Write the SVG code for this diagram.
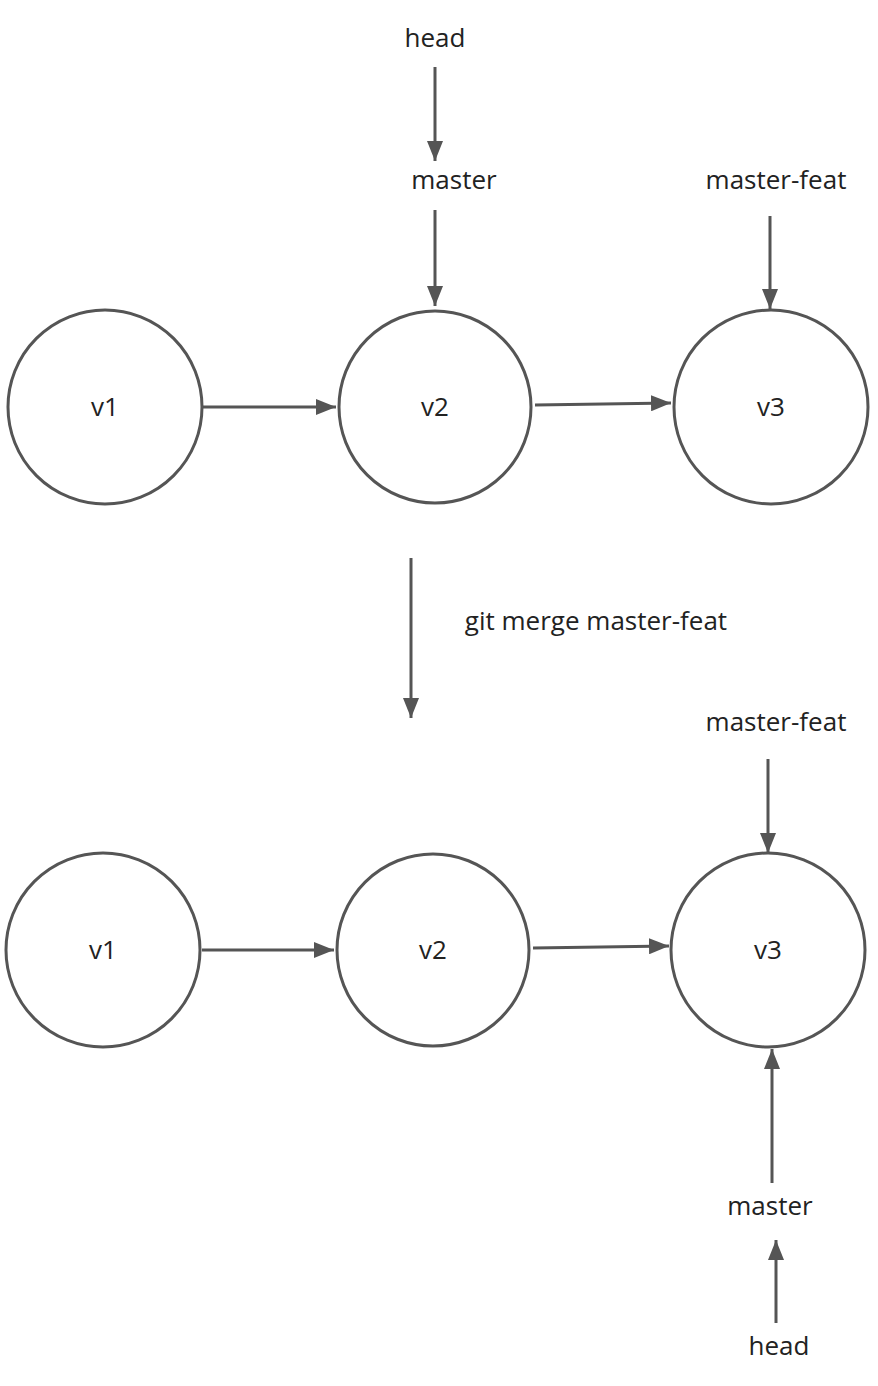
<svg xmlns="http://www.w3.org/2000/svg" width="878" height="1386" viewBox="0 0 878 1386">
<style>
.n{fill:#fff;stroke:#555;stroke-width:3}
.t{font-family:"Open Sans","Noto Sans",sans-serif;font-size:26px;fill:#222;text-anchor:middle}
.c{stroke:#555;stroke-width:3;fill:none;marker-end:url(#a)}
</style>
<defs>
<marker id="a" markerUnits="userSpaceOnUse" markerWidth="20" markerHeight="16" viewBox="0 0 20 16" refX="20" refY="8" orient="auto">
<path d="M0,0 L20,8 L0,16 Z" fill="#555"/>
</marker>
</defs>
<rect width="878" height="1386" fill="#fff"/>
<g id="connectors">
<line class="c" x1="435" y1="67" x2="435" y2="161"/>
<line class="c" x1="435" y1="210" x2="435" y2="306"/>
<line class="c" x1="770" y1="216" x2="770" y2="309"/>
<line class="c" x1="203" y1="407" x2="336" y2="407"/>
<line class="c" x1="535" y1="405" x2="671" y2="403"/>
<line class="c" x1="411" y1="558" x2="411" y2="718"/>
<line class="c" x1="768" y1="759" x2="768" y2="853"/>
<line class="c" x1="202" y1="950" x2="334" y2="950"/>
<line class="c" x1="533" y1="948" x2="669" y2="946"/>
<line class="c" x1="772" y1="1183" x2="772" y2="1049"/>
<line class="c" x1="776" y1="1323" x2="776" y2="1240"/>
</g>
<g id="v1-top"><circle class="n" cx="105" cy="407" r="97"/><text class="t" x="105" y="416">v1</text></g>
<g id="v2-top"><circle class="n" cx="435" cy="407" r="96"/><text class="t" x="435" y="416">v2</text></g>
<g id="v3-top"><circle class="n" cx="771" cy="407" r="97"/><text class="t" x="771" y="416">v3</text></g>
<g id="v1-bottom"><circle class="n" cx="103" cy="950" r="97"/><text class="t" x="103" y="959">v1</text></g>
<g id="v2-bottom"><circle class="n" cx="433" cy="950" r="96"/><text class="t" x="433" y="959">v2</text></g>
<g id="v3-bottom"><circle class="n" cx="768" cy="950" r="97"/><text class="t" x="768" y="959">v3</text></g>
<g id="label-head-top"><text class="t" x="435" y="47">head</text></g>
<g id="label-master-top"><text class="t" x="454" y="189">master</text></g>
<g id="label-master-feat-top"><text class="t" x="776" y="189">master-feat</text></g>
<g id="label-merge"><text class="t" x="596" y="630">git merge master-feat</text></g>
<g id="label-master-feat-bottom"><text class="t" x="776" y="731">master-feat</text></g>
<g id="label-master-bottom"><text class="t" x="770" y="1215">master</text></g>
<g id="label-head-bottom"><text class="t" x="779" y="1355">head</text></g>
</svg>
